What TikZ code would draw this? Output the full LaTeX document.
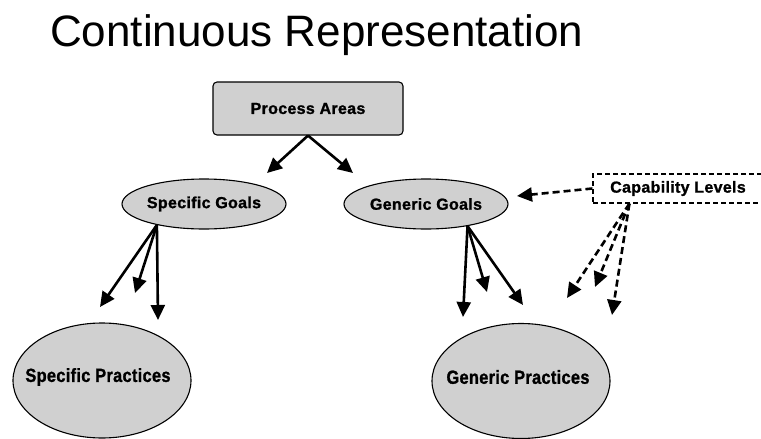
\documentclass[tikz,border=0pt]{standalone}
\usepackage{fontspec}
\setmainfont{Liberation Sans}
\newfontfamily\heavyfont[FakeBold=1.2,LetterSpace=2]{Liberation Sans Bold}
\usetikzlibrary{arrows.meta,shapes.geometric,calc}
\definecolor{boxgray}{HTML}{D0D0D0}
\begin{document}
\begin{tikzpicture}[x=1pt,y=-1pt,
  lbl/.style={font=\fontsize{16}{18}\selectfont\heavyfont},
  goal/.style={ellipse,draw=black,line width=1.1pt,fill=boxgray,inner sep=0pt,
    minimum width=164pt,minimum height=50pt,lbl},
  practice/.style={ellipse,draw=black,line width=1.1pt,fill=boxgray,inner sep=0pt,
    minimum width=178pt,minimum height=115pt},
  narrowlbl/.style={font=\fontsize{19}{21}\selectfont\heavyfont},
  link/.style={line width=2.6pt,-{Triangle[length=15pt,width=14pt]}},
  dlink/.style={link,dash pattern=on 7pt off 4pt}]
\useasboundingbox (0,0) rectangle (761,439);

% title
\node[anchor=base west,inner sep=0pt,font=\fontsize{44}{50}\selectfont] (title) at (50,46) {Continuous Representation};

% top box
\node[draw=black,line width=1.1pt,fill=boxgray,rounded corners=4pt,
  minimum width=190pt,minimum height=53pt,inner sep=0pt,lbl] (pa) at (308,108.5) {Process Areas};

% goals
\node[goal] (sg) at (204,204) {Specific Goals};
\node[goal] (gg) at (426,204) {Generic Goals};

% capability levels box (runs past the right edge)
\node[draw=black,line width=1.2pt,dash pattern=on 5pt off 3pt,minimum width=190pt,
  minimum height=29pt,inner sep=0pt] (cl) at (688,188.5) {};
\node[lbl,inner sep=0pt] (clt) at (678,188.5) {Capability Levels};

% practices
\node[practice] (sp) at (102,380.5) {};
\node[narrowlbl,inner sep=0pt] (spt) at (98,377) {\scalebox{0.86}[1]{Specific Practices}};
\node[practice] (gp) at (521,381) {};
\node[narrowlbl,inner sep=0pt] (gpt) at (518,377) {\scalebox{0.86}[1]{Generic Practices}};

% free ends of connectors
\coordinate (paL) at (267,173);
\coordinate (paR) at (353,173);
\coordinate (sg1) at (100,307);
\coordinate (sg2) at (135,293);
\coordinate (sg3) at (158,320);
\coordinate (gg1) at (463,317);
\coordinate (gg2) at (487,292);
\coordinate (gg3) at (523,305);
\coordinate (clg) at (517,196);
\coordinate (clb) at ($(cl.south west)+(37,0)$);
\coordinate (cl1) at (567,298);
\coordinate (cl2) at (595,287);
\coordinate (cl3) at (612,315);

% solid connectors
\draw[link] (pa.south) -- (paL);
\draw[link] (pa.south) -- (paR);
\draw[link] (sg.204.5) -- (sg1);
\draw[link] (sg.204.5) -- (sg2);
\draw[link] (sg.204.5) -- (sg3);
\draw[link] (gg.332) -- (gg1);
\draw[link] (gg.332) -- (gg2);
\draw[link] (gg.332) -- (gg3);

% dashed connectors
\draw[dlink] (cl.west) -- (clg);
\draw[dlink] (clb) -- (cl1);
\draw[dlink] (clb) -- (cl2);
\draw[dlink] (clb) -- (cl3);
\end{tikzpicture}
\end{document}
